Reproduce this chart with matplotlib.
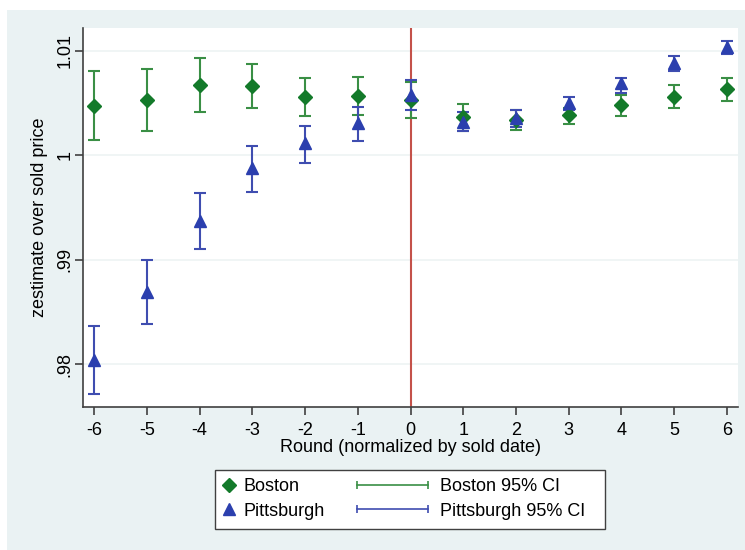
import numpy as np
import matplotlib
matplotlib.use("Agg")
import matplotlib.pyplot as plt
from matplotlib.lines import Line2D
from matplotlib.patches import Rectangle
from matplotlib.legend_handler import HandlerLine2D

plt.rcParams['font.family'] = ['Liberation Sans', 'DejaVu Sans']

# rounds relative to the sold date
rounds = [-6, -5, -4, -3, -2, -1, 0, 1, 2, 3, 4, 5, 6]

# Boston: point estimate and 95% CI
boston = [1.00474, 1.00525, 1.00675, 1.00665, 1.00557, 1.00569, 1.00528,
          1.00363, 1.00337, 1.00385, 1.00477, 1.00560, 1.00630]
boston_lo = [1.00145, 1.00232, 1.00413, 1.00455, 1.00378, 1.00388, 1.00359,
             1.00236, 1.00241, 1.00299, 1.00372, 1.00452, 1.00519]
boston_hi = [1.00805, 1.00825, 1.00933, 1.00876, 1.00736, 1.00745, 1.00697,
             1.00490, 1.00430, 1.00449, 1.00576, 1.00672, 1.00742]

# Pittsburgh: point estimate and 95% CI
pitt = [0.98040, 0.98694, 0.99370, 0.99875, 1.00114, 1.00305, 1.00576,
        1.00321, 1.00353, 1.00497, 1.00688, 1.00885, 1.01032]
pitt_lo = [0.97715, 0.98385, 0.99100, 0.99651, 0.99928, 1.00139, 1.00430,
           1.00232, 1.00273, 1.00433, 1.00598, 1.00809, 1.00968]
pitt_hi = [0.98366, 0.98997, 0.99635, 1.00088, 1.00279, 1.00458, 1.00720,
           1.00410, 1.00433, 1.00554, 1.00742, 1.00949, 1.01096]

yticks = [0.98, 0.99, 1.0, 1.01]
ytick_labels = [".98", ".99", "1", "1.01"]

bg = "#eaf2f3"
green = "#137a2a"
green_ci = "#3a8f45"
blue = "#2b3fae"
blue_ci = "#3f4db0"
red = "#c4524a"
fs = 13

fig = plt.figure(figsize=(7.45, 5.5), dpi=100)
fig.patch.set_facecolor("white")
fig.add_artist(Rectangle((7 / 745, 0), 1, 1 - 10 / 550, transform=fig.transFigure,
                         facecolor=bg, edgecolor="none", zorder=-10))

ax = fig.add_axes([83 / 745, 1 - 407 / 550, (738 - 83) / 745, (407 - 28) / 550])
ax.set_facecolor("white")

x = np.array(rounds)
b = np.array(boston)
p = np.array(pitt)

# confidence intervals
ax.errorbar(x, b, yerr=[b - np.array(boston_lo), np.array(boston_hi) - b],
            fmt="none", ecolor=green_ci, elinewidth=1.5, capsize=4, capthick=1.5, zorder=3)
ax.errorbar(x, p, yerr=[p - np.array(pitt_lo), np.array(pitt_hi) - p],
            fmt="none", ecolor=blue_ci, elinewidth=1.5, capsize=4, capthick=1.5, zorder=3)
# point estimates
ax.plot(x, b, "D", color=green, markersize=7, zorder=4)
ax.plot(x, p, "^", color=blue, markersize=8, zorder=5)

ax.axvline(0, color=red, lw=1.5, zorder=2)

ax.set_xlim(-6.21, 6.21)
ax.set_ylim(0.9759, 1.01217)
ax.set_xticks(rounds)
ax.set_xticklabels([str(r) for r in rounds])
ax.set_yticks(yticks)
ax.set_yticklabels(ytick_labels, rotation=90, va="center")
ax.grid(axis="y", color="#eef4f4", lw=1.2, zorder=0)
ax.set_axisbelow(True)

for s in ["top", "right"]:
    ax.spines[s].set_visible(False)
for s in ["left", "bottom"]:
    ax.spines[s].set_color("#404040")
    ax.spines[s].set_linewidth(1.2)
ax.tick_params(direction="out", length=6, width=1.2, color="#404040",
               labelsize=fs)
ax.tick_params(axis="x", pad=5)
ax.tick_params(axis="y", pad=1)

ax.set_xlabel("Round (normalized by sold date)", fontsize=fs, labelpad=0)
ax.set_ylabel("zestimate over sold price", fontsize=fs, labelpad=6)

# legend frame and two legend blocks inside it
fig.add_artist(Rectangle((215 / 745, 1 - 529 / 550), 390 / 745, 59 / 550,
                         transform=fig.transFigure, facecolor="white",
                         edgecolor="#404040", lw=1.0, zorder=5))

h_b = Line2D([], [], marker="D", color=green, ls="none", markersize=7)
h_p = Line2D([], [], marker="^", color=blue, ls="none", markersize=8)
leg1 = fig.legend([h_b, h_p], ["Boston", "Pittsburgh"], loc="upper left",
                  bbox_to_anchor=(220 / 745, 1 - 478 / 550), frameon=False,
                  fontsize=fs, handlelength=1.0, handletextpad=0.3,
                  labelspacing=0.42, borderpad=0, borderaxespad=0)
leg1.set_zorder(6)

h_bc = Line2D([], [], color=green_ci, lw=1.2, marker="|", markersize=6, markeredgewidth=1.2)
h_pc = Line2D([], [], color=blue_ci, lw=1.2, marker="|", markersize=6, markeredgewidth=1.2)
leg2 = fig.legend([h_bc, h_pc], ["Boston 95% CI", "Pittsburgh 95% CI"], loc="upper left",
                  bbox_to_anchor=(357 / 745, 1 - 478 / 550), frameon=False,
                  fontsize=fs, handlelength=3.93, handletextpad=0.66,
                  labelspacing=0.42, borderpad=0, borderaxespad=0,
                  handler_map={h_bc: HandlerLine2D(numpoints=2, marker_pad=0),
                               h_pc: HandlerLine2D(numpoints=2, marker_pad=0)})
leg2.set_zorder(6)

plt.savefig("out.png", dpi=100)
